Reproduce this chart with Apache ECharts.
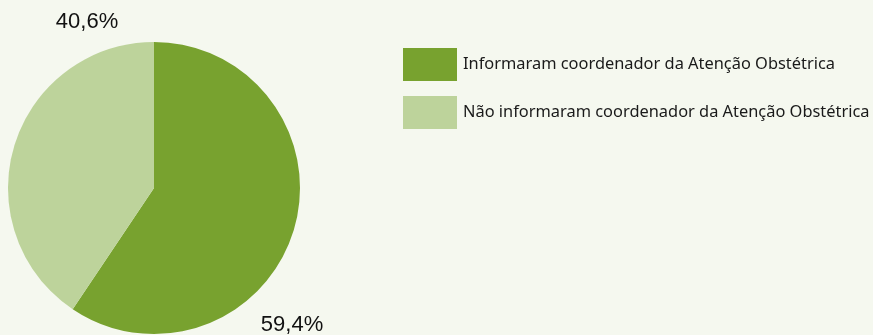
<!DOCTYPE html>
<html>
<head>
<meta charset="utf-8">
<script src="https://cdn.jsdelivr.net/npm/echarts@6/dist/echarts.min.js"></script>
<style>
  html, body { margin: 0; padding: 0; background: #f5f8ef; }
  #chart { width: 873px; height: 335px; }
</style>
</head>
<body>
<div id="chart"></div>
<script>
// Shares of respondents (percent)
const categories = [
  'Informaram coordenador da Atenção Obstétrica',
  'Não informaram coordenador da Atenção Obstétrica'
];
const values = [59.4, 40.6];
const colors = ['#78a22f', '#bdd39b'];

// Fixed anchor points for the two percentage labels
const labelAnchors = [
  { x: 292, y: 325 },
  { x: 87, y: 22 }
];

const chart = echarts.init(document.getElementById('chart'), null, { renderer: 'canvas' });

chart.setOption({
  backgroundColor: '#f5f8ef',
  animation: false,
  legend: {
    orient: 'vertical',
    left: 398,
    top: 43,
    icon: 'rect',
    itemWidth: 54,
    itemHeight: 33,
    itemGap: 15,
    textStyle: {
      fontFamily: 'Noto Sans',
      fontSize: 16.4,
      color: '#1a1a1a',
      padding: [0, 0, 0, 1]
    },
    data: categories
  },
  series: [{
    type: 'pie',
    center: [154, 188],
    radius: 146,
    startAngle: 90,
    clockwise: true,
    silent: true,
    avoidLabelOverlap: false,
    label: {
      show: true,
      position: 'outside',
      formatter: p => p.value.toFixed(1).replace('.', ',') + '%',
      fontFamily: 'Liberation Sans',
      fontSize: 22,
      color: '#111'
    },
    labelLine: { show: false },
    labelLayout: params => ({
      x: labelAnchors[params.dataIndex].x,
      y: labelAnchors[params.dataIndex].y,
      align: 'center',
      verticalAlign: 'middle',
      hideOverlap: false
    }),
    data: categories.map((name, i) => ({
      name,
      value: values[i],
      itemStyle: { color: colors[i] }
    }))
  }]
});
</script>
</body>
</html>
